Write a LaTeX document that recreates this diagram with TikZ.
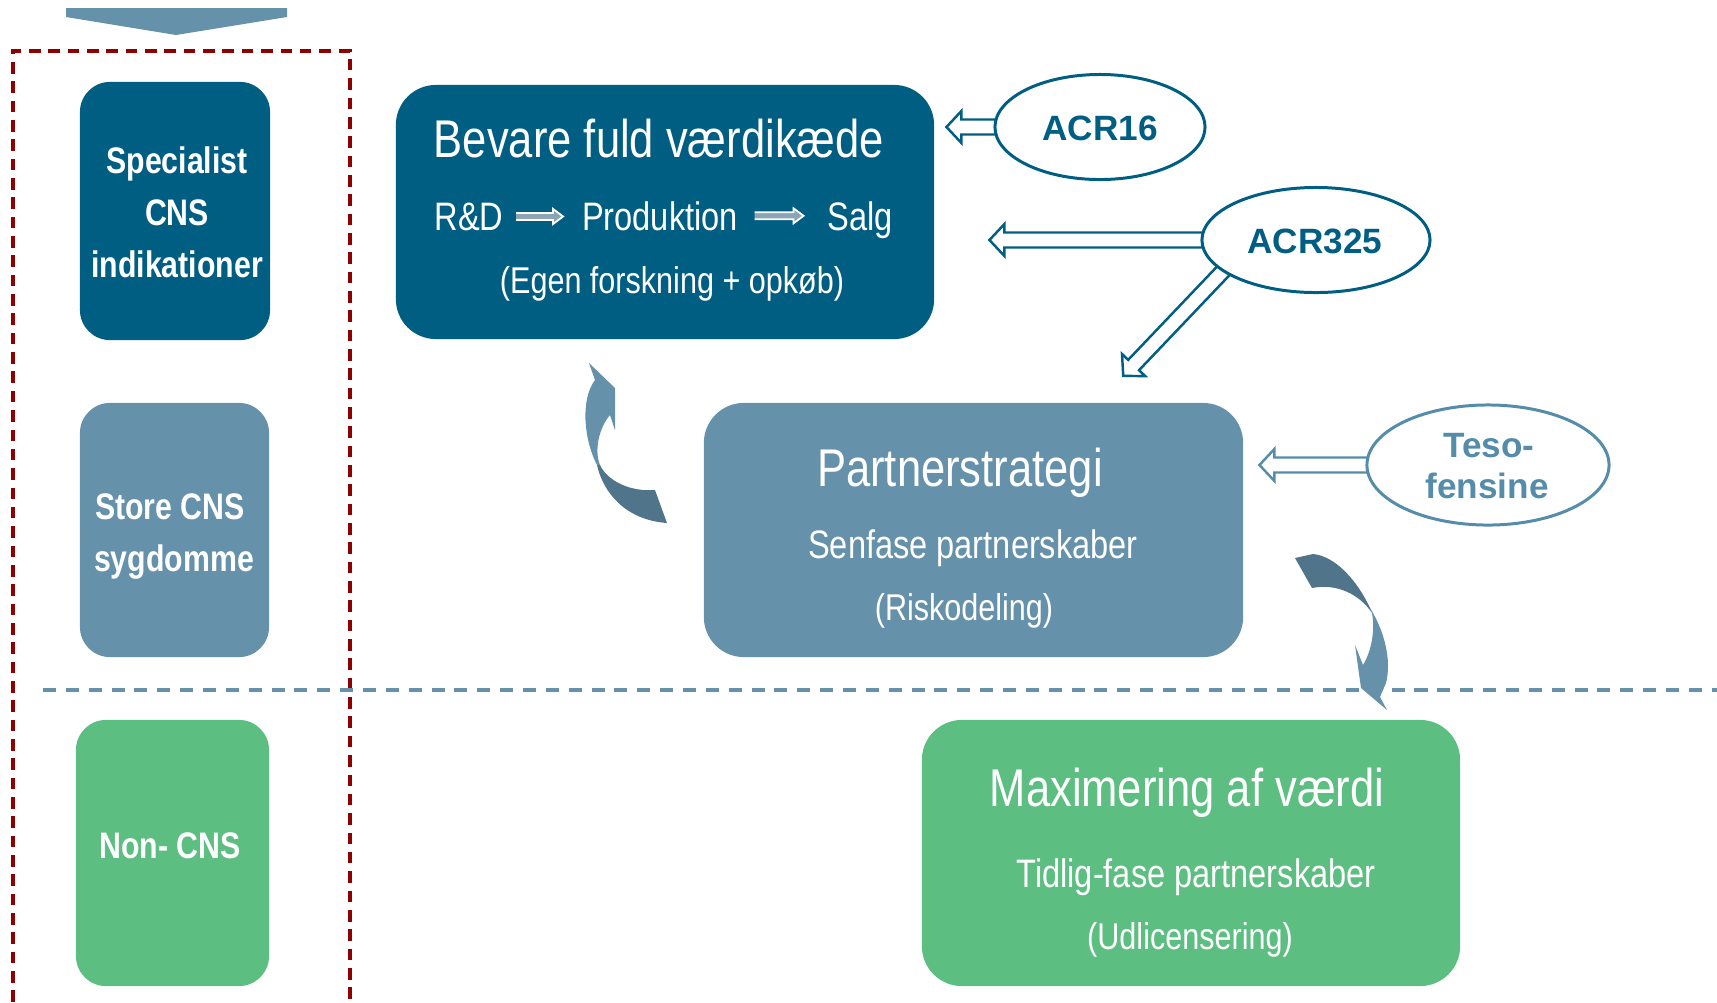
\documentclass[tikz,border=0pt]{standalone}
\usepackage{fontspec}
\setmainfont{Liberation Sans}
\newfontfamily\narrowfont[FakeStretch=0.82]{Liberation Sans}
\usepackage{xcolor}
\usepackage{tikz}
\usetikzlibrary{shapes.geometric,backgrounds}
\definecolor{cnsdark}{RGB}{0,94,131}
\definecolor{cnsmid}{RGB}{101,145,170}
\definecolor{tesoblue}{RGB}{84,140,170}
\definecolor{noncns}{RGB}{92,190,128}
\definecolor{groupred}{RGB}{140,0,0}
\definecolor{twistdark}{RGB}{80,116,137}
\definecolor{chainarrow}{RGB}{140,165,182}
\tikzset{
  hollow arrow/.pic={
    \tikzset{%
      /harrow/.cd,
      #1
    }
    \draw [pic actions] (0,\harrowshaft) -- (\harrowlen-\harrowtip,\harrowshaft) -- (\harrowlen-\harrowtip,\harrowhead) -- (\harrowlen,0) -- (\harrowlen-\harrowtip,-\harrowhead) -- (\harrowlen-\harrowtip,-\harrowshaft) -- (0,-\harrowshaft);
  },
  /harrow/.search also={/tikz},
  /harrow/.cd,
  length/.store in=\harrowlen,
  shaft/.store in=\harrowshaft,
  head/.store in=\harrowhead,
  tip/.store in=\harrowtip,
  length=50,
  shaft=7.5,
  head=16,
  tip=15,
}
\tikzset{
  box/.style={rectangle, rounded corners=#1, inner sep=0pt, outer sep=0pt},
  title/.style={text=white, inner sep=0pt, anchor=base, font=\narrowfont\fontsize{15.1}{18}\selectfont},
  sub/.style={text=white, inner sep=0pt, anchor=base, font=\narrowfont\fontsize{11.3}{14}\selectfont},
  paren/.style={text=white, inner sep=0pt, anchor=base, font=\narrowfont\fontsize{10.6}{13}\selectfont},
  side/.style={text=white, inner sep=0pt, anchor=base, font=\narrowfont\bfseries\fontsize{10.5}{13}\selectfont},
  drug/.style={ellipse, draw=#1, line width=0.85pt, fill=white, inner sep=0pt},
  druglabel/.style={text=#1, inner sep=0pt, anchor=base, font=\bfseries\fontsize{10}{12}\selectfont},
  arrowline/.style={draw=#1, fill=white, line width=0.7pt, line join=miter},
  chainline/.style={draw=white, fill=chainarrow, line width=0.5pt, line join=miter},
}
\begin{document}
\begin{tikzpicture}[x=0.01cm, y=-0.01cm]
\useasboundingbox (0,0) rectangle (1717,1002);
\fill[cnsmid] (66,8) -- (287,8) -- (287,17) -- (176,35) -- (66,17) -- cycle;
\draw[groupred, line width=1.1pt, dash pattern=on 3.3pt off 2.2pt] (13,1002) -- (13,51) -- (350,51) -- (350,1002);

\node[box=0.3cm, fill=cnsdark, minimum width=1.90cm, minimum height=2.58cm] (specbox) at (175,211) {};
\node[box=0.3cm, fill=cnsmid, minimum width=1.89cm, minimum height=2.54cm] (storebox) at (174.5,530) {};
\node[box=0.3cm, fill=noncns, minimum width=1.93cm, minimum height=2.66cm] (nonbox) at (172.5,853) {};
\node[side] (spec1) at (177,173) {Specialist};
\node[side] (spec2) at (177,225) {CNS};
\node[side] (spec3) at (177,277) {indikationer};
\node[side] (store1) at (170,519) {Store CNS};
\node[side] (store2) at (174,571) {sygdomme};
\node[side] (non1) at (170,858) {Non- CNS};

\node[box=0.4cm, fill=cnsdark, minimum width=5.38cm, minimum height=2.54cm] (bevare) at (665,212) {};
\node[box=0.4cm, fill=cnsmid, minimum width=5.39cm, minimum height=2.54cm] (partner) at (973.5,530) {};
\node[box=0.4cm, fill=noncns, minimum width=5.38cm, minimum height=2.66cm] (maxv) at (1191,853) {};

\node[title] (bevaretxt) at (659,157) {Bevare fuld værdikæde};
\node[sub] (rd) at (469,230) {R\&D};
\node[sub] (prod) at (660,230) {Produktion};
\node[sub] (salg) at (860,230) {Salg};
\node[paren] (egen) at (672,293) {(Egen forskning + opkøb)};
\pic[chainline] at ([xshift=0.12cm]rd.east) {hollow arrow={length=47, shaft=3.5, head=7.5, tip=10}};
\pic[chainline] at ([xshift=0.16cm]prod.east) {hollow arrow={length=49, shaft=3.5, head=7.5, tip=10}};

\node[title] (partnertxt) at (960,486) {Partnerstrategi};
\node[sub] (senfase) at (973,558) {Senfase partnerskaber};
\node[paren] (risk) at (964,620) {(Riskodeling)};

\node[title] (maxtxt) at (1187,806) {Maximering af værdi};
\node[sub] (tidlig) at (1196,887) {Tidlig-fase partnerskaber};
\node[paren] (udl) at (1190,949) {(Udlicensering)};

\node[drug=cnsdark, minimum width=2.10cm, minimum height=1.05cm] (acr16) at (1100,127) {};
\node[drug=cnsdark, minimum width=2.28cm, minimum height=1.05cm] (acr325) at (1316,240) {};
\node[drug=tesoblue, minimum width=2.42cm, minimum height=1.20cm] (teso) at (1488,465) {};
\node[druglabel=cnsdark] (acr16txt) at (1100,140) {ACR16};
\node[druglabel=cnsdark] (acr325txt) at (1315,253) {ACR325};
\node[druglabel=tesoblue] (teso1) at (1489,457) {Teso-};
\node[druglabel=tesoblue] (teso2) at (1487,498) {fensine};

\begin{scope}[on background layer]
\pic[arrowline=cnsdark, rotate=180] at ([xshift=0.03cm]acr16.west) {hollow arrow={length=50}};
\pic[arrowline=cnsdark, rotate=180] at ([xshift=0.03cm]acr325.west) {hollow arrow={length=214}};
\pic[arrowline=cnsdark, rotate=226.4] at (1226,268) {hollow arrow={length=149}};
\pic[arrowline=tesoblue, rotate=180] at ([xshift=0.03cm]teso.west) {hollow arrow={length=109}};
\end{scope}

\fill[twistdark] (597,465) .. controls (603,492) and (625,520) .. (667,523) -- (655,490) .. controls (632,492) and (608,482) .. (600,465) -- cycle;
\fill[cnsmid] (597,465) .. controls (584,440) and (580,400) .. (595,380) -- (589,363) -- (615,388) -- (615,430) -- (610,415) .. controls (599,428) and (594,450) .. (600,465) -- cycle;

\fill[twistdark] (1295,558) -- (1312,588) .. controls (1338,583) and (1360,595) .. (1372,613) -- (1370,608) .. controls (1357,580) and (1335,556) .. (1313,554) -- cycle;
\fill[cnsmid] (1370,608) .. controls (1384,630) and (1392,660) .. (1386,683) -- (1380,697) -- (1387,710) -- (1361,688) -- (1355,645) -- (1363,665) .. controls (1372,650) and (1375,630) .. (1372,613) -- cycle;

\draw[cnsmid, line width=1pt, dash pattern=on 3.7pt off 2.8pt] (43,690) -- (1717,690);
\end{tikzpicture}
\end{document}
